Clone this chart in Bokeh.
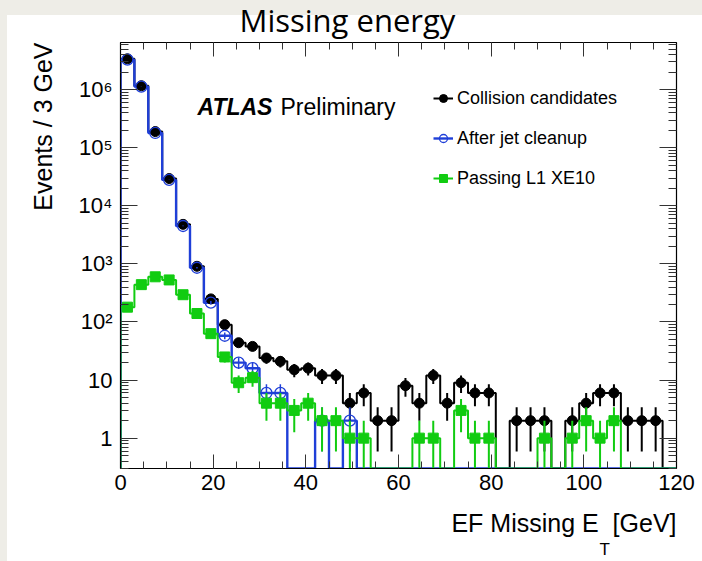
import numpy as np
from bokeh.plotting import figure
from bokeh.models import (Range1d, FixedTicker, LinearAxis, LogAxis, Label,
                          Legend, LegendItem, ColumnDataSource, Title)
from bokeh.layouts import column
from bokeh.embed import file_html
from bokeh.resources import INLINE

# ---- data: EF missing E_T, 3 GeV bins from 0 to 120 GeV ----
bin_edges = list(range(0, 121, 3))
collision_candidates = [3.4e6, 1.17e6, 1.9e5, 2.95e4, 4.8e3, 910, 250, 90,
                        44, 38, 24, 21, 15, 16, 12, 12, 4, 6, 2, 2,
                        8, 4, 12, 4, 9, 6, 6, 0, 2, 2, 2, 0, 2, 4, 6, 6,
                        2, 2, 2, 0]
after_jet_cleanup = [3.3e6, 1.13e6, 1.8e5, 2.8e4, 4.5e3, 860, 215, 58,
                     20, 16, 6, 6, 0, 0, 2, 0, 2, 0, 0, 0,
                     0, 0, 0, 0, 0, 0, 0, 0, 0, 0, 0, 0, 0, 0, 0, 0,
                     0, 0, 0, 0]
passing_l1_xe10 = [180, 440, 600, 530, 295, 140, 63, 25,
                   9, 11, 4, 4, 3, 4, 2, 2, 1, 1, 0, 0,
                   0, 1, 1, 0, 3, 1, 1, 0, 0, 0, 1, 0, 1, 2, 1, 2,
                   0, 0, 0, 0]

x_ticks = [0, 20, 40, 60, 80, 100, 120]
y_ticks = [1, 10, 100, 1000, 10000, 100000, 1000000]
y_tick_labels = ["1", "10", "10²", "10³", "10⁴", "10⁵", "10⁶"]

Y_MIN, Y_MAX = 0.3, 6.5e6
AXIS_FONT = "Liberation Sans"
SLIDE_BG = "#eeede7"
RAISE = 10        # canvas starts above the window so the slide title can sit high
SUBSCRIPT_AT = 104.5   # x position (GeV scale) of the T in E_T

p = figure(width=702, height=561 + RAISE, x_range=Range1d(0, 120),
           y_range=Range1d(Y_MIN, Y_MAX), y_axis_type="log",
           output_backend="svg", toolbar_location=None,
           min_border_left=120, min_border_right=26,
           min_border_top=42 + RAISE, min_border_bottom=83,
           background_fill_color="white", border_fill_color=None)
p.margin = (-RAISE, 0, 0, 0)
p.xgrid.visible = False
p.ygrid.visible = False
p.outline_line_color = "black"
p.outline_line_width = 1.2

p.title.text = "Missing energy"
p.title.text_font = "Open Sans"
p.title.text_font_size = "31px"
p.title.text_font_style = "normal"
p.title.text_color = "black"
p.title.align = "left"
p.title.offset = 119
p.title.standoff = 3

bottom_axis = p.below[0]
left_axis = p.left[0]

edges = np.array(bin_edges, dtype=float)
centers = 0.5 * (edges[:-1] + edges[1:])


def step_source(values):
    v = np.maximum(np.array(values, dtype=float), Y_MIN)
    xs = np.concatenate([[edges[0]], np.repeat(edges, 2)[1:-1], [edges[-1]]])
    ys = np.concatenate([[Y_MIN], np.repeat(v, 2), [Y_MIN]])
    return ColumnDataSource(dict(x=xs, y=ys))


def point_source(values):
    v = np.array(values, dtype=float)
    keep = v > 0
    err = np.sqrt(v[keep])
    return ColumnDataSource(dict(x=centers[keep], y=v[keep],
                                 lo=np.maximum(v[keep] - err, Y_MIN),
                                 hi=v[keep] + err))


BLACK, BLUE, GREEN = "#000000", "#1f3fd8", "#11cc11"

# histogram outlines
black_line = p.line("x", "y", source=step_source(collision_candidates),
                    line_color=BLACK, line_width=2)
blue_line = p.line("x", "y", source=step_source(after_jet_cleanup),
                   line_color=BLUE, line_width=2.4)
green_line = p.line("x", "y", source=step_source(passing_l1_xe10),
                    line_color=GREEN, line_width=2)

# points with statistical errors
src_k = point_source(collision_candidates)
p.segment("x", "lo", "x", "hi", source=src_k, line_color=BLACK, line_width=2)
black_pts = p.scatter("x", "y", source=src_k, marker="circle", size=10,
                      fill_color=BLACK, line_color=BLACK)

src_b = point_source(after_jet_cleanup)
p.segment("x", "lo", "x", "hi", source=src_b, line_color=BLUE, line_width=1.5)
blue_pts = p.scatter("x", "y", source=src_b, marker="circle", size=11,
                     fill_color=None, line_color=BLUE, line_width=1.3)

src_g = point_source(passing_l1_xe10)
p.segment("x", "lo", "x", "hi", source=src_g, line_color=GREEN, line_width=2)
green_pts = p.scatter("x", "y", source=src_g, marker="square", size=10,
                      fill_color=GREEN, line_color=GREEN)

# axes: ticks inside the frame on all four sides
x_ticker = FixedTicker(ticks=x_ticks, minor_ticks=list(range(0, 121, 5)))
y_minor = [m * 10.0 ** k for k in range(-1, 7) for m in range(2, 10)]
y_ticker = FixedTicker(ticks=y_ticks, minor_ticks=y_minor)

top_axis = LinearAxis(ticker=x_ticker)
right_axis = LogAxis(ticker=y_ticker)
p.add_layout(top_axis, "above")
p.add_layout(right_axis, "right")

bottom_axis.ticker = x_ticker
left_axis.ticker = y_ticker
left_axis.major_label_overrides = dict(zip(y_ticks, y_tick_labels))

for ax in [bottom_axis, top_axis]:
    ax.major_tick_in, ax.major_tick_out = 14, 0
    ax.minor_tick_in, ax.minor_tick_out = 7, 0
for ax in [left_axis, right_axis]:
    ax.major_tick_in, ax.major_tick_out = 17, 0
    ax.minor_tick_in, ax.minor_tick_out = 8, 0
for ax in [bottom_axis, left_axis, top_axis, right_axis]:
    ax.axis_line_color = "black"
    ax.major_tick_line_color = "#333333"
    ax.minor_tick_line_color = "#333333"
    ax.major_label_text_font = AXIS_FONT
    ax.major_label_text_color = "black"
# the mirrored axes carry ticks only
for ax in [top_axis, right_axis]:
    ax.major_label_text_alpha = 0
    ax.major_label_text_font_size = "2px"
    ax.major_label_standoff = 0
bottom_axis.major_label_text_font_size = "22px"
bottom_axis.major_label_standoff = 6
left_axis.major_label_text_font_size = "22px"
left_axis.major_label_standoff = 8


def axis_title(text, size, standoff, offset=0):
    return Title(text=text, align="right", offset=offset, standoff=standoff,
                 text_font=AXIS_FONT, text_font_size=size,
                 text_font_style="normal", text_color="black")


# axis titles flush with the high end of each axis
p.add_layout(axis_title("Events / 3 GeV", "25px", 37), "left")
p.add_layout(axis_title("EF Missing E\u00a0\u00a0[GeV]", "25px", 29), "below")

# subscript T of E_T: a bare axis whose single tick label sits beside the E
subscript_axis = LinearAxis(
    ticker=FixedTicker(ticks=[SUBSCRIPT_AT], minor_ticks=[]),
    major_label_overrides={SUBSCRIPT_AT: "T"},
    axis_line_color=None, major_tick_line_color=None,
    minor_tick_line_color=None, major_tick_in=0, major_tick_out=0,
    minor_tick_in=0, minor_tick_out=0,
    major_label_standoff=-12,
    major_label_text_font=AXIS_FONT, major_label_text_font_size="17px",
    major_label_text_color="black")
p.add_layout(subscript_axis, "below")

# experiment tag
p.add_layout(Label(x=77, y=362, x_units="screen", y_units="screen",
                   text="ATLAS", text_font=AXIS_FONT, text_font_size="23px",
                   text_font_style="bold italic", text_baseline="alphabetic",
                   text_color="black"))
p.add_layout(Label(x=160, y=362, x_units="screen", y_units="screen",
                   text="Preliminary", text_font=AXIS_FONT,
                   text_font_size="23px", text_baseline="alphabetic",
                   text_color="black"))

legend = Legend(items=[
    LegendItem(label="Collision candidates", renderers=[black_line, black_pts]),
    LegendItem(label="After jet cleanup", renderers=[blue_line, blue_pts]),
    LegendItem(label="Passing L1 XE10", renderers=[green_line, green_pts]),
], location=(313, 277), glyph_width=20, glyph_height=26, label_height=26,
    label_standoff=4, spacing=14, padding=0, margin=0,
    border_line_color=None, background_fill_alpha=0,
    label_text_font=AXIS_FONT, label_text_font_size="18px",
    label_text_color="black")
p.add_layout(legend)

# slide background: beige strips along the top and left edges
slide_bg = (f"linear-gradient({SLIDE_BG}, {SLIDE_BG}) top left / 100% 15px no-repeat, "
            f"linear-gradient({SLIDE_BG}, {SLIDE_BG}) top left / 7px 100% no-repeat, "
            "white")
page = column(p, styles={"background": slide_bg})
open("out.html", "w").write(file_html(page, INLINE, title="Missing energy"))
